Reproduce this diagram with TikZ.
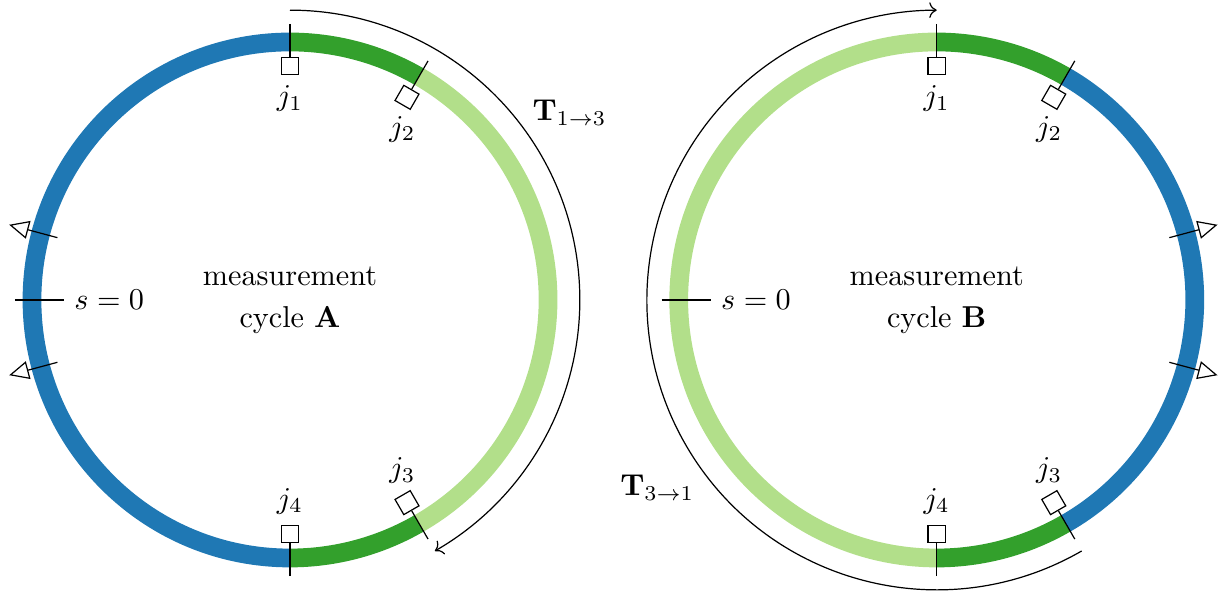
\documentclass[tikz,border=0pt]{standalone}
\usepackage{amsmath,amssymb}
\usepackage{xcolor}
\usepackage{tikz}
\usetikzlibrary{calc,arrows.meta}

\definecolor{pairblue}{HTML}{1F78B4}
\definecolor{pairgreen}{HTML}{33A02C}
\definecolor{pairlight}{HTML}{B2DF8A}

\begin{document}
\begin{tikzpicture}[
    ring/.style={line width=6.2pt},
    jbox/.style={draw,fill=white,inner sep=0pt,minimum size=5.8pt},
    outarrow/.style={-{Triangle[open,length=6.5pt,width=6pt]}}
  ]
  \useasboundingbox (-3.372,-3.419) rectangle (10.86,3.488);

  \coordinate (A) at (0,0);
  \coordinate (B) at (7.52,0);

  % cycle A
  \draw[ring,pairblue] ($(A)+(90:3)$) arc[start angle=90,end angle=270,radius=3];
  \draw[ring,pairgreen] ($(A)+(60:3)$) arc[start angle=60,end angle=90,radius=3];
  \draw[ring,pairgreen] ($(A)+(-90:3)$) arc[start angle=-90,end angle=-60,radius=3];
  \draw[ring,pairlight] ($(A)+(-60:3)$) arc[start angle=-60,end angle=60,radius=3];

  % cycle B
  \draw[ring,pairlight] ($(B)+(90:3)$) arc[start angle=90,end angle=270,radius=3];
  \draw[ring,pairgreen] ($(B)+(60:3)$) arc[start angle=60,end angle=90,radius=3];
  \draw[ring,pairgreen] ($(B)+(-90:3)$) arc[start angle=-90,end angle=-60,radius=3];
  \draw[ring,pairblue] ($(B)+(-60:3)$) arc[start angle=-60,end angle=60,radius=3];

  % junctions, s=0 and names
  \foreach \c in {A,B}{
    \foreach \a/\n/\anc in {90/1/north,60/2/north,-60/3/south,-90/4/south}{
      \draw ($(\c)+(\a:3.21)$) -- ($(\c)+(\a:2.83)$)
        node[jbox,rotate=\a-90,anchor=north] (\c-j\n) {};
      \node[anchor=\anc] (\c-l\n) at (\c-j\n.south) {$j_{\n}$};
    }
    \draw ($(\c)+(180:3.2)$) -- ($(\c)+(180:2.63)$) node[right] (\c-s) {$s=0$};
    \node[align=center] (\c-name) at (\c) {measurement\\[2pt]cycle \textbf{\c}};
  }

  % outflow arrows
  \draw[outarrow] ($(A)+(165:2.8)$) -- ($(A)+(165:3.38)$);
  \draw[outarrow] ($(A)+(195:2.8)$) -- ($(A)+(195:3.38)$);
  \draw[outarrow] ($(B)+(15:2.8)$) -- ($(B)+(15:3.38)$);
  \draw[outarrow] ($(B)+(-15:2.8)$) -- ($(B)+(-15:3.38)$);

  % transitions
  \draw[->] ($(A)+(90:3.37)$) arc[start angle=90,end angle=-60,radius=3.37];
  \node (T13) at ($(A)+(3.25,2.18)$) {$\mathbf{T}_{1\to3}$};
  \draw[->] ($(B)+(-60:3.37)$) arc[start angle=-60,end angle=-270,radius=3.37];
  \node (T31) at ($(B)+(-3.25,-2.18)$) {$\mathbf{T}_{3\to1}$};
\end{tikzpicture}
\end{document}
